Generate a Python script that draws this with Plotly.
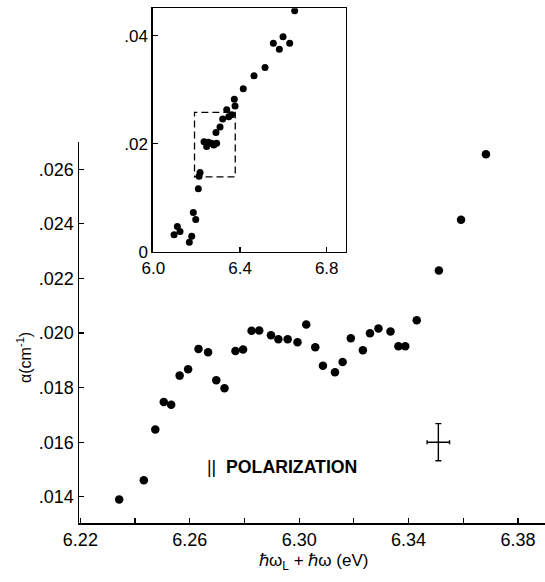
import plotly.graph_objects as go

# ---- data: main panel ----
x_main = [6.2342, 6.2432, 6.2474, 6.2505, 6.2532, 6.2563, 6.2594, 6.2632, 6.2667, 6.2697,
          6.2727, 6.2767, 6.2795, 6.2826, 6.2854, 6.2897, 6.2924, 6.2958, 6.2994, 6.3026,
          6.3059, 6.3087, 6.3131, 6.3159, 6.3189, 6.3233, 6.3259, 6.3290, 6.3334, 6.3363,
          6.3388, 6.3430, 6.3511, 6.3592, 6.3683]
y_main = [0.01390, 0.01461, 0.01647, 0.01747, 0.01737, 0.01844, 0.01867, 0.01942, 0.01930, 0.01827,
          0.01798, 0.01934, 0.01940, 0.02008, 0.02009, 0.01992, 0.01977, 0.01977, 0.01966, 0.02031,
          0.01948, 0.01880, 0.01856, 0.01894, 0.01981, 0.01937, 0.01999, 0.02017, 0.02006, 0.01952,
          0.01952, 0.02047, 0.02229, 0.02415, 0.02655]

# representative error bar
err_x = [6.3509]
err_y = [0.0160]
err_dx = [0.0041]
err_dy = [0.00068]

# ---- data: inset ----
x_in = [6.0955, 6.1107, 6.123, 6.166, 6.177, 6.1845, 6.1956, 6.2076, 6.211, 6.2155,
        6.234, 6.246, 6.254, 6.269, 6.279, 6.292, 6.289, 6.3077, 6.320, 6.3386,
        6.348, 6.3617, 6.377, 6.3737, 6.415, 6.4646, 6.5154, 6.5538, 6.5815, 6.5985,
        6.6292, 6.6523]
y_in = [0.0032, 0.0047, 0.0038, 0.0018, 0.0029, 0.0073, 0.0060, 0.0117, 0.0140, 0.0147,
        0.0204, 0.0195, 0.0203, 0.0201, 0.0198, 0.0201, 0.0221, 0.0231, 0.0246, 0.0263,
        0.0250, 0.0254, 0.0270, 0.02825, 0.0302, 0.0326, 0.0341, 0.0386, 0.0375, 0.0398,
        0.0386, 0.0446]

# ---- tick labels ----
main_xticks = [6.22, 6.26, 6.30, 6.34, 6.38]
main_xtext = ["6.22", "6.26", "6.30", "6.34", "6.38"]
main_yticks = [0.014, 0.016, 0.018, 0.020, 0.022, 0.024, 0.026]
main_ytext = [".014", ".016", ".018", ".020", ".022", ".024", ".026"]
in_xticks = [6.0, 6.4, 6.8]
in_xtext = ["6.0", "6.4", "6.8"]
in_yticks = [0.0, 0.02, 0.04]
in_ytext = ["0", ".02", ".04"]

# dashed zoom box in inset (data coordinates of inset)
box_x = [6.19, 6.378]
box_y = [0.0139, 0.0258]

FONT = "Liberation Sans"
W, H = 545, 582

fig = go.Figure()
fig.add_trace(go.Scatter(x=x_main, y=y_main, mode="markers",
                         marker=dict(size=8.5, color="black"), xaxis="x", yaxis="y",
                         showlegend=False))
fig.add_trace(go.Scatter(x=err_x, y=err_y, mode="markers",
                         marker=dict(size=1, color="rgba(0,0,0,0)"),
                         error_x=dict(type="data", array=err_dx, color="black", thickness=1.4, width=2),
                         error_y=dict(type="data", array=err_dy, color="black", thickness=1.4, width=3),
                         xaxis="x", yaxis="y", showlegend=False))
fig.add_trace(go.Scatter(x=x_in, y=y_in, mode="markers",
                         marker=dict(size=7, color="black"), xaxis="x2", yaxis="y2",
                         showlegend=False))

def px_x(p):
    return p / W

def px_y(p):
    return (H - p) / H

common = dict(ticks="inside", ticklen=5, tickwidth=1.2, tickcolor="black",
              showline=True, linecolor="black", showgrid=False, zeroline=False,
              automargin=False)

fig.update_layout(
    width=W, height=H,
    margin=dict(l=0, r=0, t=0, b=0, pad=0),
    paper_bgcolor="white", plot_bgcolor="rgba(0,0,0,0)",
    font=dict(family=FONT, color="black", size=15),
    hovermode=False,
    xaxis=dict(domain=[px_x(79), px_x(545)], range=[6.2195, 6.3899],
               tickvals=main_xticks, ticktext=main_xtext,
               minor=dict(tick0=6.22, dtick=0.02, ticks="inside", ticklen=5,
                          tickwidth=1.2, tickcolor="black", showgrid=False),
               linewidth=1.5, anchor="y",
               tickfont=dict(size=18, family=FONT, color="black"), **common),
    yaxis=dict(domain=[px_y(523), px_y(142)], range=[0.01304, 0.0270],
               tickvals=main_yticks, ticktext=main_ytext,
               linewidth=1.5, anchor="x",
               tickfont=dict(size=18, family=FONT, color="black"), **common),
    xaxis2=dict(domain=[px_x(152.7), px_x(345.7)], range=[5.997, 6.8877],
                tickvals=in_xticks, ticktext=in_xtext,
                linewidth=1.3, mirror=True, anchor="y2",
                tickfont=dict(size=17, family=FONT, color="black"), **common),
    yaxis2=dict(domain=[px_y(252), px_y(8.3)], range=[0.0, 0.04506],
                tickvals=in_yticks, ticktext=in_ytext,
                linewidth=1.3, mirror=True, anchor="x2",
                tickfont=dict(size=17, family=FONT, color="black"), **common),
    shapes=[dict(type="rect", xref="x2", yref="y2",
                 x0=box_x[0], x1=box_x[1], y0=box_y[0], y1=box_y[1],
                 line=dict(color="black", width=1.3, dash="7px,4px"))],
    annotations=[
        dict(text="ℏω<sub>L</sub> + ℏω (eV)", xref="paper", yref="paper",
             x=px_x(313), y=px_y(562), showarrow=False,
             font=dict(size=17, family=FONT, color="black"), xanchor="center", yanchor="middle"),
        dict(text="α(cm<sup>-1</sup>)", xref="paper", yref="paper",
             x=px_x(24), y=px_y(358), showarrow=False, textangle=-90,
             font=dict(size=16, family=FONT, color="black"), xanchor="center", yanchor="middle"),
        dict(text="||&nbsp;&nbsp;<b>POLARIZATION</b>", xref="paper", yref="paper",
             x=px_x(205), y=px_y(467), showarrow=False,
             font=dict(size=17.7, family=FONT, color="black"), xanchor="left", yanchor="middle"),
    ],
)

fig.write_html("out.html", config={"displayModeBar": False, "staticPlot": True},
               post_script="document.body.style.margin='0';document.body.style.overflow='hidden';")
